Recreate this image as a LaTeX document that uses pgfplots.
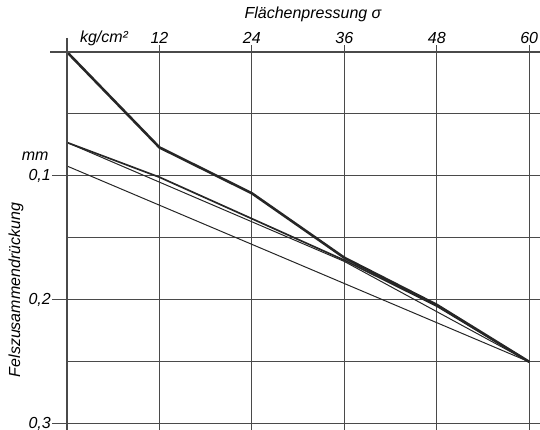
\documentclass[border=0pt]{standalone}
\usepackage{fontspec}
\setmainfont{Liberation Sans}
\usepackage{pgfplots}
\pgfplotsset{compat=1.18}
\definecolor{ink}{HTML}{262626}
\definecolor{gridc}{HTML}{4A4A4A}
\begin{document}
\begin{tikzpicture}[font=\fontsize{16}{18}\selectfont\itshape]
\begin{axis}[
  at={(67pt,-52pt)}, anchor=north west,
  scale only axis, width=473pt, height=378pt,
  xmin=0, xmax=61.4, ymin=0, ymax=0.305,
  y dir=reverse,
  axis line style={draw=none},
  xtick={12,24,36,48,60}, xticklabels={12,24,36,48,60},
  ytick={0.1,0.2,0.3}, yticklabels={{0,1},{0,2},{0,3}},
  minor ytick={0.05,0.15,0.25},
  grid=both,
  major grid style={gridc, line width=1.0pt},
  minor grid style={gridc, line width=1.0pt},
  xtick pos=right, xticklabel pos=right,
  ytick pos=left, yticklabel pos=left,
  tick align=outside,
  major tick length=7pt, minor tick length=0pt,
  xtick style={gridc, line width=1.0pt},
  ytick style={draw=none},
  xticklabel style={anchor=base, yshift=2pt},
  yticklabel style={anchor=east, inner sep=1pt, xshift=-8pt},
  clip=false,
]
% y tick marks reaching left
\draw[gridc, line width=1.0pt] (axis cs:0,0.1) -- ++(-15pt,0);
\draw[gridc, line width=1.0pt] (axis cs:0,0.2) -- ++(-15pt,0);
\draw[gridc, line width=1.0pt] (axis cs:0,0.3) -- ++(-15pt,0);
% thick curve
\addplot[ink, line width=2.6pt, line join=round] coordinates {
  (0,0) (12,0.077) (24,0.114) (36,0.166) (48,0.204) (60,0.25)};
% medium curve
\addplot[ink, line width=1.7pt, line join=round] coordinates {
  (0,0.073) (12,0.101) (36,0.168) (48,0.205) (60,0.25)};
% thin straight lines
\addplot[ink, line width=1.0pt] coordinates {(0,0.073) (36,0.169) (60,0.25)};
\addplot[ink, line width=1.0pt] coordinates {(0,0.092) (60,0.25)};
\end{axis}
% axis lines
\draw[gridc, line width=1.2pt] (67pt,-38pt) -- (67pt,-430pt);
\draw[gridc, line width=1.2pt] (50pt,-52pt) -- (540pt,-52pt);
% texts
\node[anchor=base] at (313pt,-19pt) {Flächenpressung σ};
\node[anchor=base] at (104pt,-43pt) {kg/cm²};
\node[anchor=base east] at (52pt,-161pt) {mm};
\node[rotate=90] at (16pt,-290pt) {Felszusammendrückung};
\pgfresetboundingbox
\path (0,0) rectangle (540pt,-430pt);
\end{tikzpicture}
\end{document}
